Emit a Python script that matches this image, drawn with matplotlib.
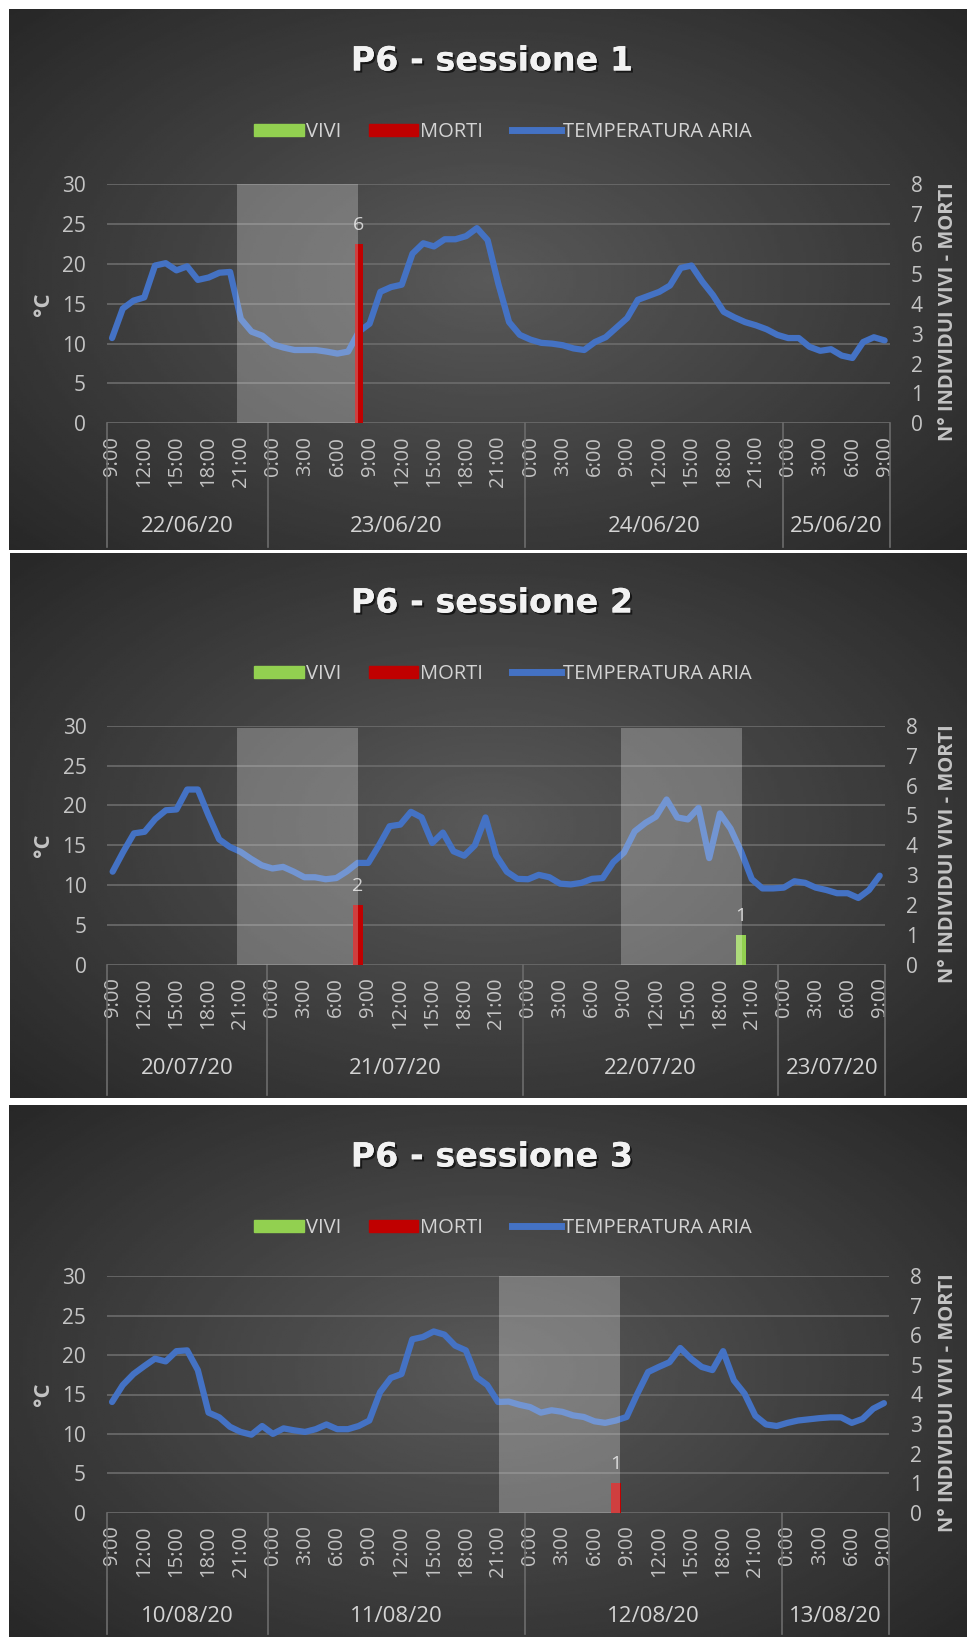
import numpy as np
import matplotlib.pyplot as plt
import matplotlib.patheffects as pe
from matplotlib.patches import Patch
from matplotlib.lines import Line2D

plt.rcParams['font.family'] = ['Open Sans', 'DejaVu Sans']

# ========== dati ==========
titoli = ['P6 - sessione 1', 'P6 - sessione 2', 'P6 - sessione 3']

# temperatura aria, una lettura all'ora dalle 9:00 del primo giorno alle 9:00 del quarto
temp_1 = [10.7, 14.4, 15.4, 15.8, 19.8, 20.1, 19.2, 19.7, 18.0, 18.3, 18.9, 19.0,
          13.1, 11.5, 11.0, 9.9, 9.5, 9.2, 9.2, 9.2, 9.0, 8.75, 9.0,
          11.5, 12.5, 16.5, 17.1, 17.4, 21.3, 22.6, 22.2, 23.1, 23.1, 23.5, 24.5, 23.0,
          17.5, 12.7, 11.1, 10.5, 10.1, 10.0, 9.8, 9.4, 9.2, 10.2, 10.8, 12.0, 13.2,
          15.5, 16.0, 16.5, 17.3, 19.5, 19.8, 17.8, 16.1, 14.0, 13.3, 12.7, 12.3,
          11.8, 11.1, 10.7, 10.7, 9.6, 9.1, 9.3, 8.5, 8.2, 10.2, 10.8, 10.4]
temp_2 = [11.7, 14.2, 16.5, 16.7, 18.3, 19.4, 19.5, 22.0, 22.0, 18.75, 15.75, 14.8, 14.2,
          13.3, 12.5, 12.1, 12.3, 11.7, 11.0, 11.0, 10.75, 10.9, 11.75, 12.8, 12.8,
          15.0, 17.4, 17.6, 19.2, 18.5, 15.3, 16.6, 14.25, 13.7, 15.0, 18.5, 13.75,
          11.7, 10.8, 10.75, 11.3, 11.0, 10.2, 10.1, 10.3, 10.8, 10.9, 12.9, 14.1,
          16.75, 17.8, 18.6, 20.75, 18.5, 18.25, 19.7, 13.4, 19.0, 17.1, 14.2, 10.75,
          9.6, 9.6, 9.7, 10.5, 10.3, 9.7, 9.4, 9.0, 9.0, 8.4, 9.4, 11.2]
temp_3 = [14.05, 16.2, 17.6, 18.6, 19.55, 19.2, 20.5, 20.6, 18.1, 12.7, 12.1, 10.9, 10.25,
          9.9, 11.0, 10.0, 10.7, 10.45, 10.25, 10.6, 11.2, 10.6, 10.6, 11.0, 11.7,
          15.3, 17.1, 17.6, 22.0, 22.3, 23.0, 22.6, 21.2, 20.6, 17.2, 16.2, 14.05,
          14.1, 13.7, 13.4, 12.7, 13.0, 12.8, 12.35, 12.15, 11.6, 11.4, 11.7, 12.15,
          15.1, 17.85, 18.5, 19.1, 20.9, 19.55, 18.5, 18.1, 20.5, 16.8, 15.1, 12.3,
          11.2, 11.0, 11.4, 11.7, 11.85, 12.0, 12.1, 12.1, 11.4, 11.9, 13.2, 13.9]
temperature = [temp_1, temp_2, temp_3]

# individui (posizione = indice dell'ora, valore = numero)
morti_pos = [[23], [23], [47]]
morti_val = [[6], [2], [1]]
vivi_pos = [[], [59], []]
vivi_val = [[], [1], []]

# fasce evidenziate (in indici di categoria)
fasce = [[(11.67, 22.9)], [(11.7, 23.0), (47.7, 59.1)], [(36.1, 47.4)]]

tick_labels = ['9:00', '12:00', '15:00', '18:00', '21:00',
               '0:00', '3:00', '6:00', '9:00', '12:00', '15:00', '18:00', '21:00',
               '0:00', '3:00', '6:00', '9:00', '12:00', '15:00', '18:00', '21:00',
               '0:00', '3:00', '6:00', '9:00']
date = [['22/06/20', '23/06/20', '24/06/20', '25/06/20'],
        ['20/07/20', '21/07/20', '22/07/20', '23/07/20'],
        ['10/08/20', '11/08/20', '12/08/20', '13/08/20']]
ore_giorno = [15, 24, 24, 10]

# ========== layout (pixel) ==========
W, H = 967, 1637
pannelli = [(9, 9, 967, 550), (10, 553, 967, 1098), (9, 1105, 967, 1637)]
assi = [(106.7, 184.3, 890, 423.3), (107.3, 725.7, 885, 965), (106.7, 1276.3, 889.3, 1512.7)]
y_titolo = [61, 603, 1157]
y_legenda = [132, 674, 1228]
y_date = [527, 1068, 1617]
top_fascia = [1.0, 0.99, 1.0]
larghezza_barre = [0.72, 0.95, 0.87]

GRID = '#6c6c6c'
TXT = '#c4c4c4'
BLU = '#4472C4'
ROSSO = '#C00000'
VERDE = '#92D050'

fig = plt.figure(figsize=(W / 100, H / 100), dpi=100)
fig.patch.set_facecolor('white')


def fig_rect(x0, y0, x1, y1):
    return [x0 / W, 1 - y1 / H, (x1 - x0) / W, (y1 - y0) / H]


for k in range(3):
    # sfondo con gradiente
    bg = fig.add_axes(fig_rect(*pannelli[k]), zorder=0)
    yy, xx = np.mgrid[0:1:300j, 0:1:300j]
    r = np.sqrt(((xx - 0.5) / 0.7) ** 2 + ((yy - 0.5) / 0.75) ** 2)
    c = np.clip(0.35 - 0.2 * r, 0.15, 0.4)
    bg.imshow(c, cmap='gray', vmin=0, vmax=1, extent=[0, 1, 0, 1], aspect='auto')
    bg.axis('off')

    x0, y0, x1, y1 = assi[k]
    ax = fig.add_axes(fig_rect(x0, y0, x1, y1), zorder=2)
    ax.patch.set_visible(False)
    x = np.arange(len(temperature[k]))
    ax.plot(x, temperature[k], color=BLU, lw=4.5, solid_joinstyle='round',
            solid_capstyle='round', zorder=3)
    ax.set_xlim(-0.5, len(x) - 0.5)
    ax.set_ylim(0, 30)
    ax.set_yticks(range(0, 31, 5))
    ax.grid(axis='y', color=GRID, lw=1.2)
    ax.set_axisbelow(True)
    for s in ax.spines.values():
        s.set_visible(False)
    ax.tick_params(axis='y', length=0, pad=15, labelsize=15, labelcolor=TXT)
    ax.set_xticks(x[::3])
    ax.set_xticklabels(tick_labels, rotation=90, fontsize=14.5, color=TXT)
    ax.tick_params(axis='x', length=0, pad=9)

    ax2 = ax.twinx()
    ax2.set_zorder(3)
    ax2.patch.set_visible(False)
    ax2.set_ylim(0, 8)
    ax2.set_yticks(range(0, 9))
    for s in ax2.spines.values():
        s.set_visible(False)
    ax2.tick_params(axis='y', length=0, pad=15, labelsize=15, labelcolor=TXT)
    b1 = ax2.bar(morti_pos[k], morti_val[k], width=larghezza_barre[k], color=ROSSO, zorder=4)
    b2 = ax2.bar(vivi_pos[k], vivi_val[k], width=larghezza_barre[k], color=VERDE, zorder=4)
    for bars in (b1, b2):
        for b in bars:
            ax2.annotate(f'{int(b.get_height())}', (b.get_x() + b.get_width() / 2, b.get_height()),
                         xytext=(0, 7), textcoords='offset points', ha='center', va='bottom',
                         fontsize=14, color='#d0d0d0')
    for a, bnd in fasce[k]:
        ax2.axvspan(a, bnd, ymin=0, ymax=top_fascia[k], color='white', alpha=0.25, lw=0, zorder=5)

    # separatori giorni e date
    h_ax = y1 - y0
    giu = (pannelli[k][3] - 3 - y1) / h_ax
    tr = ax.get_xaxis_transform()
    bordi = np.cumsum([0] + ore_giorno) - 0.5
    for b in bordi:
        ax.plot([b, b], [0, -giu], transform=tr, color=GRID, lw=1.2, clip_on=False)
    for j, d in enumerate(date[k]):
        ax.text((bordi[j] + bordi[j + 1]) / 2, -(y_date[k] - y1) / h_ax, d,
                transform=tr, ha='center', va='center', fontsize=16, color='#d4d4d4')

    # titoli assi
    fig.text(43 / W, 1 - (y0 + y1) / 2 / H, '°C', rotation=90, ha='center', va='center',
             fontsize=16, fontweight='bold', color=TXT)
    fig.text(948 / W, 1 - ((y0 + y1) / 2 + 8) / H, 'N° INDIVIDUI VIVI - MORTI', rotation=90,
             ha='center', va='center', fontsize=14.5, fontweight='bold', color=TXT)

    # titolo
    t = fig.text(492 / W, 1 - y_titolo[k] / H, titoli[k], ha='center', va='center',
                 fontsize=24, fontweight='bold', color='#f2f2f2', family='DejaVu Sans')
    t.set_path_effects([pe.withSimplePatchShadow(offset=(1.5, -1.5), shadow_rgbFace='black', alpha=0.6),
                        pe.Normal()])

    # legenda
    handles = [Patch(color=VERDE), Patch(color=ROSSO), Line2D([], [], color=BLU, lw=5)]
    fig.legend(handles, ['VIVI', 'MORTI', 'TEMPERATURA ARIA'], loc='center',
               bbox_to_anchor=(503 / W, 1 - y_legenda[k] / H), ncol=3, frameon=False,
               fontsize=14.5, labelcolor='#d4d4d4', handlelength=2.45, handleheight=0.6,
               handletextpad=0.1, columnspacing=1.4)

fig.savefig('out.png', dpi=100)
